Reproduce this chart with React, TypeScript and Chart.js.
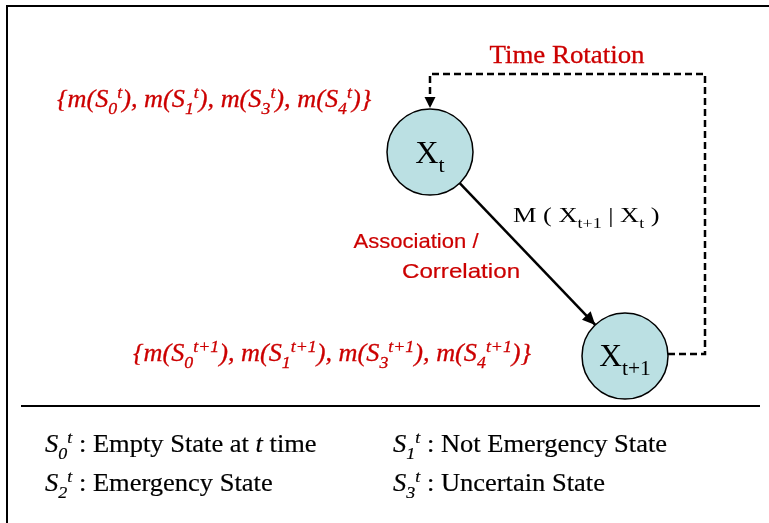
import React, { useEffect, useRef } from "react";
import { Chart, registerables } from "chart.js";

Chart.register(...registerables);

// ---- diagram data (in page units: x 0..769, y 0..523 top-down) ----
const nodeLabels = ["X_[t]", "X_[t+1]"];
const nodeX = [430, 625];
const nodeY = [152, 356];
const nodeRadius = 43;

const loopX = [668, 705, 705, 430, 430];
const loopY = [354, 354, 74, 74, 108];

const frameX = [7, 7, 769];
const frameY = [523, 6, 6];

const sepX = [21, 760];
const sepY = [406, 406];

const RED = "#CC0000";
const SERIF = "'Liberation Serif', 'Times New Roman', serif";
const SANS = "'Liberation Sans', Arial, sans-serif";

const stateSetT = "{m(S_[0]^[t]), m(S_[1]^[t]), m(S_[3]^[t]), m(S_[4]^[t])}";
const stateSetT1 = "{m(S_[0]^[t+1]), m(S_[1]^[t+1]), m(S_[3]^[t+1]), m(S_[4]^[t+1])}";
const rotationLabel = "Time Rotation";
const assocLabels = ["Association /", "Correlation"];
const transitionLabel = "M ( X_[t+1] | X_[t] )";
const legendLabels = [
  "*S*_[*0*]^[*t*] : Empty State at *t* time",
  "*S*_[*1*]^[*t*] : Not Emergency State",
  "*S*_[*2*]^[*t*] : Emergency State",
  "*S*_[*3*]^[*t*] : Uncertain State",
];

type TextItem = {
  text: string;
  x: number;
  y: number;
  size: number;
  family: string;
  color: string;
  italic?: boolean;
  align: "left" | "center";
  stretch: number;
  weight: number;
};

const texts: TextItem[] = [
  { text: rotationLabel, x: 567, y: 63, size: 25, family: SERIF, color: RED, align: "center", stretch: 1.075, weight: 0.3 },
  { text: stateSetT, x: 57, y: 107, size: 25, family: SERIF, color: RED, italic: true, align: "left", stretch: 1.05, weight: 0.3 },
  { text: stateSetT1, x: 133, y: 361, size: 25, family: SERIF, color: RED, italic: true, align: "left", stretch: 1.05, weight: 0.3 },
  { text: assocLabels[0], x: 416, y: 248, size: 21, family: SANS, color: RED, align: "center", stretch: 1.05, weight: 0.2 },
  { text: assocLabels[1], x: 461, y: 278, size: 21, family: SANS, color: RED, align: "center", stretch: 1.15, weight: 0.2 },
  { text: transitionLabel, x: 513, y: 222, size: 22, family: SERIF, color: "#000", align: "left", stretch: 1.2, weight: 0 },
  { text: nodeLabels[0], x: nodeX[0], y: nodeY[0] + 11, size: 31, family: SERIF, color: "#000", align: "center", stretch: 1.04, weight: 0 },
  { text: nodeLabels[1], x: nodeX[1], y: nodeY[1] + 10, size: 31, family: SERIF, color: "#000", align: "center", stretch: 1.02, weight: 0 },
  { text: legendLabels[0], x: 45, y: 452, size: 25, family: SERIF, color: "#000", align: "left", stretch: 1.06, weight: 0.2 },
  { text: legendLabels[1], x: 393, y: 452, size: 25, family: SERIF, color: "#000", align: "left", stretch: 1.06, weight: 0.2 },
  { text: legendLabels[2], x: 45, y: 491, size: 25, family: SERIF, color: "#000", align: "left", stretch: 1.06, weight: 0.2 },
  { text: legendLabels[3], x: 393, y: 491, size: 25, family: SERIF, color: "#000", align: "left", stretch: 1.06, weight: 0.2 },
];

type Seg = { t: string; mode: "n" | "sub" | "sup"; ital: boolean };

function parseRich(s: string): Seg[] {
  const segs: Seg[] = [];
  let mode: Seg["mode"] = "n";
  let ital = false;
  let buf = "";
  const push = () => {
    if (buf) {
      segs.push({ t: buf, mode, ital });
      buf = "";
    }
  };
  for (let i = 0; i < s.length; i++) {
    const c = s[i];
    if (c === "*") {
      push();
      ital = !ital;
    } else if ((c === "_" || c === "^") && s[i + 1] === "[") {
      push();
      mode = c === "_" ? "sub" : "sup";
      i++;
    } else if (c === "]" && mode !== "n") {
      push();
      mode = "n";
    } else buf += c;
  }
  push();
  return segs;
}

function drawRich(ctx: CanvasRenderingContext2D, item: TextItem, px: number, py: number) {
  const segs = parseRich(item.text);
  const fontOf = (sg: Seg) => {
    const sz = sg.mode === "n" ? item.size : item.size * 0.68;
    return `${sg.ital || item.italic ? "italic " : ""}${sz}px ${item.family}`;
  };
  const widths = segs.map((sg) => {
    ctx.font = fontOf(sg);
    return ctx.measureText(sg.t).width;
  });
  const total = widths.reduce((a, b) => a + b, 0);
  ctx.save();
  ctx.translate(px, py);
  ctx.scale(item.stretch, 1);
  ctx.fillStyle = item.color;
  ctx.strokeStyle = item.color;
  ctx.lineWidth = item.weight;
  ctx.textBaseline = "alphabetic";
  ctx.textAlign = "left";
  let x = item.align === "center" ? -total / 2 : 0;
  segs.forEach((sg, i) => {
    ctx.font = fontOf(sg);
    const dy = sg.mode === "sub" ? item.size * 0.28 : sg.mode === "sup" ? -item.size * 0.36 : 0;
    ctx.fillText(sg.t, x, dy);
    if (item.weight > 0) ctx.strokeText(sg.t, x, dy);
    x += widths[i];
  });
  ctx.restore();
}

const diagramPlugin = {
  id: "diagramDecor",
  afterDatasetsDraw(chart: any) {
    const ctx = chart.ctx as CanvasRenderingContext2D;
    chart.data.datasets.forEach((ds: any, i: number) => {
      if (!ds.arrowEnd) return;
      const pts = chart.getDatasetMeta(i).data;
      const a = pts[pts.length - 2];
      const b = pts[pts.length - 1];
      const ang = Math.atan2(b.y - a.y, b.x - a.x);
      const len = ds.arrowLen;
      const hw = ds.arrowHalf;
      ctx.save();
      ctx.fillStyle = "#000";
      ctx.translate(b.x, b.y);
      ctx.rotate(ang);
      ctx.beginPath();
      ctx.moveTo(0, 0);
      ctx.lineTo(-len, -hw);
      ctx.lineTo(-len, hw);
      ctx.closePath();
      ctx.fill();
      ctx.restore();
    });
  },
  afterDraw(chart: any) {
    const ctx = chart.ctx as CanvasRenderingContext2D;
    const xs = chart.scales.x;
    const ys = chart.scales.y;
    texts.forEach((t) => drawRich(ctx, t, xs.getPixelForValue(t.x), ys.getPixelForValue(t.y)));
  },
};

function toPts(xs: number[], ys: number[]) {
  return xs.map((x, i) => ({ x, y: ys[i] }));
}

export default function App() {
  const ref = useRef<HTMLCanvasElement>(null);
  useEffect(() => {
    document.body.style.margin = "0";
    const dx = nodeX[1] - nodeX[0];
    const dy = nodeY[1] - nodeY[0];
    const L = Math.hypot(dx, dy);
    const ux = dx / L;
    const uy = dy / L;
    const arrowPts = [
      { x: nodeX[0] + ux * nodeRadius, y: nodeY[0] + uy * nodeRadius },
      { x: nodeX[1] - ux * nodeRadius, y: nodeY[1] - uy * nodeRadius },
    ];
    const line = { showLine: true, pointRadius: 0, borderColor: "#000", fill: false, clip: false, tension: 0 };
    const chart = new Chart(ref.current!, {
      type: "scatter",
      data: {
        datasets: [
          {
            data: toPts(nodeX, nodeY),
            pointRadius: nodeRadius,
            pointHoverRadius: nodeRadius,
            pointBackgroundColor: "#BBE0E3",
            pointBorderColor: "#000",
            pointBorderWidth: 1.5,
            showLine: false,
            clip: false,
          } as any,
          { ...line, data: arrowPts, borderWidth: 2.5, arrowEnd: true, arrowLen: 13, arrowHalf: 6 } as any,
          { ...line, data: toPts(loopX, loopY), borderWidth: 2.5, borderDash: [7, 4], arrowEnd: true, arrowLen: 11, arrowHalf: 5.5 } as any,
          { ...line, data: toPts(sepX, sepY), borderWidth: 2 } as any,
          { ...line, data: toPts(frameX, frameY), borderWidth: 2 } as any,
        ],
      },
      options: {
        animation: false,
        responsive: false,
        layout: { padding: 0, autoPadding: false },
        events: [],
        plugins: { legend: { display: false }, tooltip: { enabled: false } },
        scales: {
          x: { type: "linear", min: 0, max: 769, display: false },
          y: { type: "linear", min: 0, max: 523, reverse: true, display: false },
        },
      },
      plugins: [diagramPlugin],
    });
    return () => chart.destroy();
  }, []);
  return (
    <div style={{ width: 769, height: 523, background: "#fff" }}>
      <canvas ref={ref} width={769} height={523} style={{ display: "block" }} />
    </div>
  );
}
